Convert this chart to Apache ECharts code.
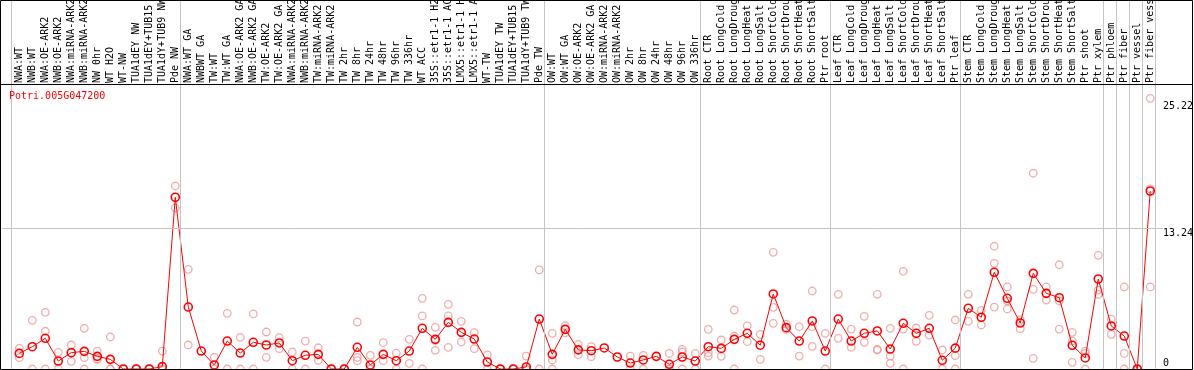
<!DOCTYPE html>
<html><head><meta charset="utf-8">
<script src="https://cdn.jsdelivr.net/npm/echarts@6/dist/echarts.min.js"></script>
<style>html,body{margin:0;padding:0;background:#fff}#c{width:1194px;height:370px}</style>
</head><body><div id="c"></div>
<script>
const geneName = 'Potri.005G047200';
const categories = [
  'NWA:WT','NWB:WT','NWA:OE-ARK2','NWB:OE-ARK2','NWA:miRNA-ARK2','NWB:miRNA-ARK2','NW 0hr','WT H2O','WT-NW','TUA1dEY NW',
  'TUA1dEY+TUB15 NW','TUA1dY+TUB9 NW','Pde NW','NWA:WT GA','NWBWT GA','TW:WT','TW:WT GA','NWA:OE-ARK2 GA','NWB:OE-ARK2 GA','TW:OE-ARK2',
  'TW:OE-ARK2 GA','NWA:miRNA-ARK2','NWB:miRNA-ARK2','TW:miRNA-ARK2','TW:miRNA-ARK2','TW 2hr','TW 8hr','TW 24hr','TW 48hr','TW 96hr',
  'TW 336hr','WT ACC','35S::etr1-1 H2O','35S::etr1-1 ACC','LMX5::etr1-1 H2O','LMX5::etr1-1 ACC','WT-TW','TUA1dEY TW','TUA1dEY+TUB15 TW','TUA1dY+TUB9 TW',
  'Pde TW','OW:WT','OW:WT GA','OW:OE-ARK2','OW:OE-ARK2 GA','OW:miRNA-ARK2','OW:miRNA-ARK2','OW 2hr','OW 8hr','OW 24hr',
  'OW 48hr','OW 96hr','OW 336hr','Root CTR','Root LongCold','Root LongDrought','Root LongHeat','Root LongSalt','Root ShortCold','Root ShortDrought',
  'Root ShortHeat','Root ShortSalt','Ptr root','Leaf CTR','Leaf LongCold','Leaf LongDrought','Leaf LongHeat','Leaf LongSalt','Leaf ShortCold','Leaf ShortDrought',
  'Leaf ShortHeat','Leaf ShortSalt','Ptr leaf','Stem CTR','Stem LongCold','Stem LongDrought','Stem LongHeat','Stem LongSalt','Stem ShortCold','Stem ShortDrought',
  'Stem ShortHeat','Stem ShortSalt','Ptr shoot','Ptr xylem','Ptr phloem','Ptr fiber','Ptr vessel','Ptr fiber vessel'
];
const meanValues = [
  1.47,2.10,2.89,0.75,1.54,1.66,1.19,0.91,0,0,
  0,0.22,16.16,5.83,1.69,0.38,2.63,1.50,2.51,2.26,
  2.45,0.78,1.29,1.38,0,0,2.04,0.38,1.38,0.78,
  1.69,3.83,2.79,4.39,3.45,2.82,0.66,0,0,0.19,
  4.70,1.38,3.73,1.80,1.72,1.98,1.13,0.56,0.85,1.19,
  0.44,1.13,0.75,2.10,1.94,2.79,3.36,2.24,7.06,3.89,
  2.63,4.52,1.69,4.70,2.63,3.36,3.58,1.88,4.30,3.36,
  3.83,0.82,1.96,5.71,4.87,9.10,6.65,4.33,9.00,7.12,
  6.71,2.23,1.04,8.47,4.05,3.10,0,16.75
];
const rep1 = [
  1.95,4.58,5.33,1.57,2.26,3.83,1.69,3.01,0,0,
  0,1.69,17.22,9.38,null,1.10,5.24,2.98,5.18,3.48,
  2.95,1.60,2.63,2.00,0,0,4.42,1.29,2.48,1.50,
  2.79,6.65,3.92,6.09,4.49,3.42,1.32,0,0,1.22,
  9.32,3.36,4.08,2.32,2.10,null,null,1.22,1.29,null,
  1.47,1.85,1.47,3.73,2.73,5.55,4.05,3.26,10.98,4.23,
  3.98,7.34,3.36,7.03,3.76,4.96,7.03,3.83,9.19,3.86,
  5.05,1.79,4.61,7.03,5.52,11.55,7.72,4.64,18.42,7.72,
  9.81,3.45,1.69,10.70,4.70,7.72,0,25.47
];
const rep2 = [
  1.07,0,3.55,0,0.72,1.07,0.94,0,0,0,
  0,0,15.15,2.26,null,0,0,0,0,1.10,
  1.91,0,0,0.82,0,0,1.10,0,0.78,0,
  0.53,4.99,2.70,4.99,2.54,1.91,0,0,0,0,
  0,0.85,3.40,1.35,1.16,null,null,0,0,null,
  0,1.60,0,1.54,1.19,3.10,2.57,0.91,5.80,3.73,
  1.22,3.98,0,2.89,2.04,2.51,1.85,1.22,3.76,2.60,
  3.20,0,1.25,4.49,4.14,9.94,6.40,3.79,7.50,6.49,
  6.40,2.63,1.47,7.43,3.26,1.47,0,16.94
];
const rep3 = [
  null,null,0,null,null,0,0.9,0,null,null,
  null,null,null,null,null,null,null,null,null,null,
  null,null,null,null,null,null,0.78,0,null,null,
  null,0,1.76,2.04,null,null,null,null,null,null,
  null,0,null,null,null,null,null,null,null,null,
  0,0,null,1.22,null,0,null,null,4.3,null,
  null,2.13,null,null,null,null,1.79,0.53,0,null,
  null,null,0,null,null,5.83,5.65,null,1.0,null,
  3.76,0.63,0,7.03,null,0,null,7.72
];
const groupEnds = [-1, 12, 40, 52, 62, 72, 83, 84, 85, 86, 87];
const yTickLabels = ['0', '13.24', '25.22'];
const yGridValues = [13.24];

const XMIN = -1.33, XMAX = 87.98, YMAX = 34.72;
const mono = "'DejaVu Sans Mono', monospace";

const repData = [];
[rep1, rep2, rep3].forEach(arr => arr.forEach((v, i) => { if (v !== null) repData.push([i, v]); }));
const meanData = meanValues.map((v, i) => [i, v]);
const yVals = yTickLabels.map(Number);
const fmtY = v => { const k = yVals.findIndex(t => Math.abs(t - v) < 1e-6); return k >= 0 ? yTickLabels[k] : ''; };

const chart = echarts.init(document.getElementById('c'), null, {renderer: 'canvas'});
chart.setOption({
  animation: false,
  backgroundColor: '#fff',
  title: { text: geneName, left: 9, top: 91, padding: 0,
    textStyle: { color: '#ff0000', fontFamily: mono, fontSize: 10, fontWeight: 'normal' } },
  grid: [
    { left: 2, right: 31, top: 0, bottom: 1, outerBoundsMode: 'none', containLabel: false },
    { left: 2, right: 31, top: 0, height: 84, outerBoundsMode: 'none', containLabel: false }
  ],
  xAxis: [
    { gridIndex: 0, type: 'value', min: XMIN, max: XMAX, show: false },
    { gridIndex: 1, type: 'value', min: XMIN, max: XMAX, position: 'bottom',
      axisLine: { show: false }, axisTick: { show: false }, splitLine: { show: false },
      axisLabel: { inside: true, rotate: 90, margin: 1, customValues: categories.map((_, i) => i),
        formatter: v => categories[Math.round(v)] || '', color: '#000', fontFamily: mono, fontSize: 10 } }
  ],
  yAxis: [
    { gridIndex: 0, type: 'value', min: 0, max: YMAX, position: 'right',
      axisLine: { show: false }, axisTick: { show: false }, splitLine: { show: false },
      axisLabel: { customValues: yVals.filter(v => v > 0), formatter: fmtY, margin: 0, align: 'left',
        verticalAlign: 'top', color: '#000', fontFamily: mono, fontSize: 10 } },
    { gridIndex: 0, type: 'value', min: 0, max: YMAX, position: 'right',
      axisLine: { show: false }, axisTick: { show: false }, splitLine: { show: false },
      axisLabel: { customValues: yVals.filter(v => v === 0), formatter: fmtY, margin: 0, align: 'left',
        verticalAlign: 'bottom', padding: [0, 0, 1, 0], color: '#000', fontFamily: mono, fontSize: 10 } },
    { gridIndex: 1, type: 'value', min: 0, max: 1, show: false }
  ],
  series: [
    { type: 'scatter', xAxisIndex: 0, yAxisIndex: 0, data: repData, symbol: 'circle', symbolSize: 7.5, z: 2,
      itemStyle: { color: 'rgba(0,0,0,0)', borderColor: '#ec9898', borderWidth: 1.3 }, silent: true,
      markLine: { silent: true, symbol: ['none', 'none'], label: { show: false }, animation: false,
        lineStyle: { color: '#c4c4c4', width: 1, type: 'solid' }, emphasis: { disabled: true },
        data: groupEnds.map(i => ({ xAxis: i + 0.4 })).concat(yGridValues.map(v => ({ yAxis: v }))) } },
    { type: 'line', xAxisIndex: 0, yAxisIndex: 0, data: meanData, symbol: 'circle', symbolSize: 8, z: 3,
      lineStyle: { color: '#ff0000', width: 1 },
      itemStyle: { color: 'rgba(0,0,0,0)', borderColor: '#ff0000', borderWidth: 1.6 }, silent: true },
    { type: 'scatter', xAxisIndex: 1, yAxisIndex: 2, data: [] }
  ],
  graphic: [
    { type: 'rect', silent: true, z: 100, shape: { x: 0.5, y: 0.5, width: 1192, height: 369 },
      style: { fill: 'none', stroke: '#000', lineWidth: 1 } },
    { type: 'line', silent: true, z: 100, shape: { x1: 0.5, y1: 84.5, x2: 1192.5, y2: 84.5 },
      style: { stroke: '#000', lineWidth: 1 } }
  ]
});
</script>
</body></html>
